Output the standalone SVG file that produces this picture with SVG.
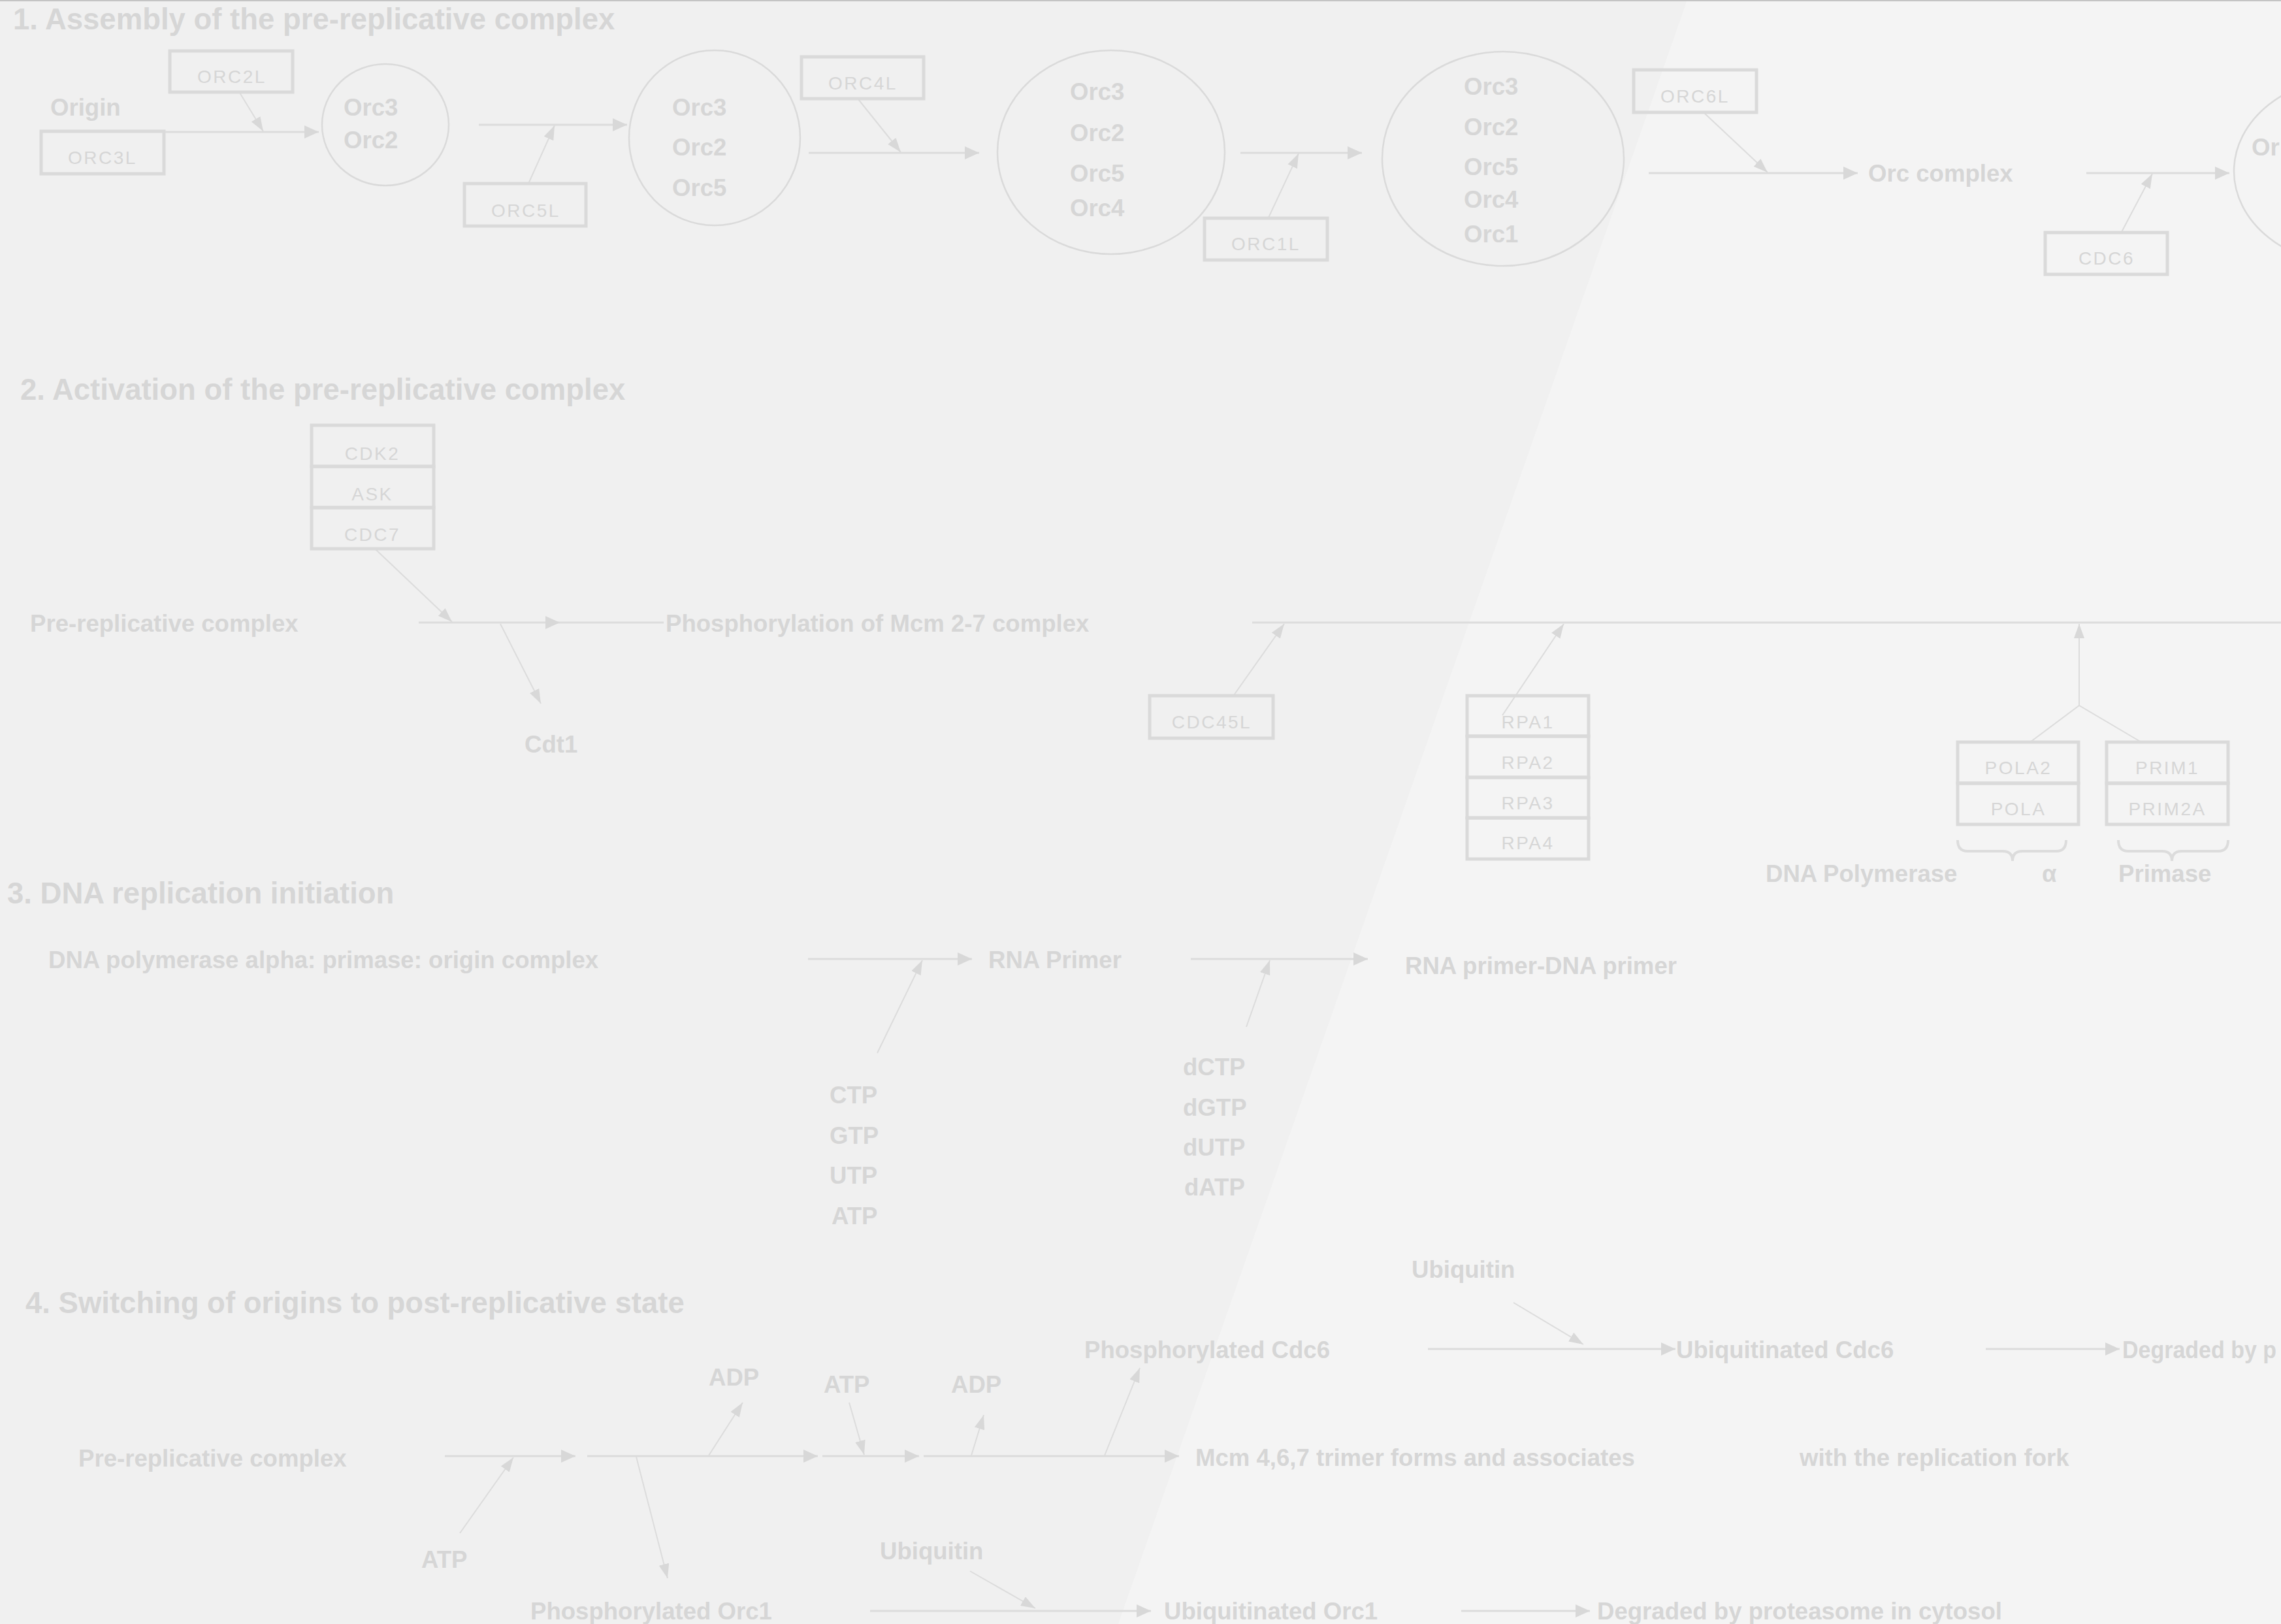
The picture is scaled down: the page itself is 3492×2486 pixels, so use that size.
<svg xmlns="http://www.w3.org/2000/svg" width="3492" height="2486" viewBox="0 0 3492 2486">
<defs>
<style>
.t{font-family:"Liberation Sans",Arial,sans-serif;font-weight:bold;font-size:36.6px;fill:#d6d6d6}
.h{font-family:"Liberation Sans",Arial,sans-serif;font-weight:bold;font-size:45.5px;fill:#d6d6d6}
.b{font-family:"Liberation Sans",Arial,sans-serif;font-size:28px;fill:#d6d6d6;letter-spacing:2.5px;text-anchor:middle}
.box{fill:none;stroke:#dadada;stroke-width:5}
.ell{fill:none;stroke:#dadada;stroke-width:2.5}
.ln{fill:none;stroke:#dcdcdc;stroke-width:3}
.sd{fill:none;stroke:#dcdcdc;stroke-width:2}
.br{fill:none;stroke:#dcdcdc;stroke-width:4}
</style>
<marker id="ah" markerUnits="userSpaceOnUse" viewBox="0 0 22 20" refX="22" refY="10" markerWidth="22" markerHeight="20" orient="auto">
<path d="M0,0 L22,10 L0,20 z" fill="#d8d8d8"/>
</marker>
<marker id="as" markerUnits="userSpaceOnUse" viewBox="0 0 22 16" refX="22" refY="8" markerWidth="22" markerHeight="16" orient="auto">
<path d="M0,0 L22,8 L0,16 z" fill="#d8d8d8"/>
</marker>
</defs>
<rect x="0" y="0" width="3492" height="2486" fill="#f0f0f0"/>
<polygon points="2583,0 3492,0 3492,2486 1712,2486" fill="#f4f4f4"/>
<rect x="0" y="0" width="3492" height="2" fill="#c4c4c4"/>

<g id="titles">
<text class="h" x="20" y="45">1. Assembly of the pre-replicative complex</text>
<text class="h" x="31" y="612">2. Activation of the pre-replicative complex</text>
<text class="h" x="11" y="1383">3. DNA replication initiation</text>
<text class="h" x="39" y="2010">4. Switching of origins to post-replicative state</text>
</g>

<g id="connectors">
<!-- section 1 -->
<line class="ln" x1="251" y1="202" x2="488" y2="202" marker-end="url(#ah)"/>
<line class="sd" x1="367" y1="142" x2="403" y2="201" marker-end="url(#as)"/>
<line class="ln" x1="733" y1="191" x2="960" y2="191" marker-end="url(#ah)"/>
<line class="sd" x1="809" y1="281" x2="849" y2="192" marker-end="url(#as)"/>
<line class="ln" x1="1238" y1="234" x2="1499" y2="234" marker-end="url(#ah)"/>
<line class="sd" x1="1314" y1="152" x2="1379" y2="233" marker-end="url(#as)"/>
<line class="ln" x1="1899" y1="234" x2="2085" y2="234" marker-end="url(#ah)"/>
<line class="sd" x1="1942" y1="333" x2="1988" y2="235" marker-end="url(#as)"/>
<line class="ln" x1="2524" y1="265" x2="2844" y2="265" marker-end="url(#ah)"/>
<line class="sd" x1="2609" y1="173" x2="2706" y2="264" marker-end="url(#as)"/>
<line class="ln" x1="3194" y1="265" x2="3413" y2="265" marker-end="url(#ah)"/>
<line class="sd" x1="3248" y1="355" x2="3295" y2="266" marker-end="url(#as)"/>
<!-- section 2 -->
<line class="ln" x1="641" y1="953" x2="857" y2="953" marker-end="url(#ah)"/>
<line class="ln" x1="857" y1="953" x2="1016" y2="953"/>
<line class="sd" x1="575" y1="841" x2="692" y2="952" marker-end="url(#as)"/>
<line class="sd" x1="766" y1="955" x2="828" y2="1077" marker-end="url(#as)"/>
<line class="ln" x1="1917" y1="953" x2="3492" y2="953"/>
<line class="sd" x1="1889" y1="1064" x2="1966" y2="955" marker-end="url(#as)"/>
<line class="sd" x1="2300" y1="1095" x2="2394" y2="955" marker-end="url(#as)"/>
<line class="sd" x1="3183" y1="1080" x2="3183" y2="955" marker-end="url(#as)"/>
<polyline class="sd" points="3108,1136 3183,1080 3278,1136"/>
<path class="br" d="M2997,1286 Q2997,1303 3012,1303 L3066,1303 Q3081,1303 3081,1318 Q3081,1303 3096,1303 L3148,1303 Q3163,1303 3163,1286"/>
<path class="br" d="M3243,1286 Q3243,1303 3258,1303 L3310,1303 Q3325,1303 3325,1318 Q3325,1303 3340,1303 L3396,1303 Q3411,1303 3411,1286"/>
<!-- section 3 -->
<line class="ln" x1="1237" y1="1468" x2="1488" y2="1468" marker-end="url(#ah)"/>
<line class="sd" x1="1343" y1="1612" x2="1412" y2="1470" marker-end="url(#as)"/>
<line class="ln" x1="1823" y1="1468" x2="2094" y2="1468" marker-end="url(#ah)"/>
<line class="sd" x1="1908" y1="1572" x2="1944" y2="1470" marker-end="url(#as)"/>
<!-- section 4 -->
<line class="ln" x1="681" y1="2229" x2="881" y2="2229" marker-end="url(#ah)"/>
<line class="sd" x1="704" y1="2347" x2="786" y2="2231" marker-end="url(#as)"/>
<line class="ln" x1="899" y1="2229" x2="1252" y2="2229" marker-end="url(#ah)"/>
<line class="sd" x1="974" y1="2230" x2="1022" y2="2416" marker-end="url(#as)"/>
<line class="sd" x1="1085" y1="2228" x2="1137" y2="2147" marker-end="url(#as)"/>
<line class="ln" x1="1259" y1="2229" x2="1407" y2="2229" marker-end="url(#ah)"/>
<line class="sd" x1="1300" y1="2147" x2="1323" y2="2227" marker-end="url(#as)"/>
<line class="ln" x1="1414" y1="2229" x2="1805" y2="2229" marker-end="url(#ah)"/>
<line class="sd" x1="1487" y1="2228" x2="1506" y2="2166" marker-end="url(#as)"/>
<line class="sd" x1="1691" y1="2228" x2="1745" y2="2094" marker-end="url(#as)"/>
<line class="ln" x1="2186" y1="2065" x2="2565" y2="2065" marker-end="url(#ah)"/>
<line class="sd" x1="2317" y1="1994" x2="2424" y2="2058" marker-end="url(#as)"/>
<line class="ln" x1="3040" y1="2065" x2="3245" y2="2065" marker-end="url(#ah)"/>
<line class="ln" x1="1332" y1="2466" x2="1762" y2="2466" marker-end="url(#ah)"/>
<line class="sd" x1="1485" y1="2405" x2="1585" y2="2462" marker-end="url(#as)"/>
<line class="ln" x1="2237" y1="2466" x2="2434" y2="2466" marker-end="url(#ah)"/>
</g>

<!-- Section 1 nodes -->
<g id="origin"><text class="t" x="77" y="177">Origin</text></g>
<g id="orc3l"><rect class="box" x="63" y="201" width="188" height="65"/><text class="b" x="157" y="251">ORC3L</text></g>
<g id="orc2l"><rect class="box" x="260" y="78" width="188" height="63"/><text class="b" x="355" y="127">ORC2L</text></g>
<g id="c32"><ellipse class="ell" cx="590" cy="191" rx="97" ry="93"/><text class="t" x="526" y="177">Orc3</text><text class="t" x="526" y="227">Orc2</text></g>
<g id="orc5l"><rect class="box" x="711" y="281" width="186" height="65"/><text class="b" x="805" y="332">ORC5L</text></g>
<g id="c325"><ellipse class="ell" cx="1094" cy="211" rx="131" ry="134"/><text class="t" x="1029" y="177">Orc3</text><text class="t" x="1029" y="238">Orc2</text><text class="t" x="1029" y="300">Orc5</text></g>
<g id="orc4l"><rect class="box" x="1227" y="87" width="187" height="64"/><text class="b" x="1321" y="137">ORC4L</text></g>
<g id="c3254"><ellipse class="ell" cx="1701" cy="233" rx="174" ry="156"/><text class="t" x="1638" y="153">Orc3</text><text class="t" x="1638" y="216">Orc2</text><text class="t" x="1638" y="278">Orc5</text><text class="t" x="1638" y="331">Orc4</text></g>
<g id="orc1l"><rect class="box" x="1844" y="334" width="188" height="64"/><text class="b" x="1938" y="383">ORC1L</text></g>
<g id="c32541"><ellipse class="ell" cx="2301" cy="243" rx="185" ry="164"/><text class="t" x="2241" y="145">Orc3</text><text class="t" x="2241" y="207">Orc2</text><text class="t" x="2241" y="268">Orc5</text><text class="t" x="2241" y="318">Orc4</text><text class="t" x="2241" y="371">Orc1</text></g>
<g id="orc6l"><rect class="box" x="2501" y="107" width="188" height="65"/><text class="b" x="2595" y="157">ORC6L</text></g>
<g id="orccomplex"><text class="t" x="2860" y="278">Orc complex</text></g>
<g id="cdc6"><rect class="box" x="3131" y="356" width="187" height="64"/><text class="b" x="3225" y="405">CDC6</text></g>
<g id="orccdc6"><ellipse class="ell" cx="3605" cy="262" rx="185" ry="145"/><text class="t" x="3447" y="238">Or</text></g>

<!-- Section 2 nodes -->
<g id="prerc2"><text class="t" x="46" y="967">Pre-replicative complex</text></g>
<g id="kinase"><rect class="box" x="477" y="651" width="187" height="63"/><rect class="box" x="477" y="714" width="187" height="63"/><rect class="box" x="477" y="777" width="187" height="63"/><text class="b" x="570" y="704">CDK2</text><text class="b" x="570" y="766">ASK</text><text class="b" x="570" y="828">CDC7</text></g>
<g id="phosmcm"><text class="t" x="1019" y="967">Phosphorylation of Mcm 2-7 complex</text></g>
<g id="cdt1"><text class="t" x="803" y="1152">Cdt1</text></g>
<g id="cdc45l"><rect class="box" x="1760" y="1065" width="189" height="65"/><text class="b" x="1855" y="1115">CDC45L</text></g>
<g id="rpa"><rect class="box" x="2246" y="1065" width="186" height="62"/><rect class="box" x="2246" y="1127" width="186" height="63"/><rect class="box" x="2246" y="1190" width="186" height="62"/><rect class="box" x="2246" y="1252" width="186" height="63"/><text class="b" x="2339" y="1115">RPA1</text><text class="b" x="2339" y="1177">RPA2</text><text class="b" x="2339" y="1239">RPA3</text><text class="b" x="2339" y="1300">RPA4</text></g>
<g id="pola"><rect class="box" x="2997" y="1136" width="185" height="63"/><rect class="box" x="2997" y="1199" width="185" height="63"/><text class="b" x="3090" y="1185">POLA2</text><text class="b" x="3090" y="1248">POLA</text></g>
<g id="prim"><rect class="box" x="3225" y="1136" width="186" height="63"/><rect class="box" x="3225" y="1199" width="186" height="63"/><text class="b" x="3318" y="1185">PRIM1</text><text class="b" x="3318" y="1248">PRIM2A</text></g>
<g id="labels2"><text class="t" x="2703" y="1350">DNA Polymerase</text><text class="t" x="3126" y="1350">α</text><text class="t" x="3243" y="1350">Primase</text></g>

<!-- Section 3 nodes -->
<g id="polprim"><text class="t" x="74" y="1482">DNA polymerase alpha: primase: origin complex</text></g>
<g id="rnaprimer"><text class="t" x="1513" y="1482">RNA Primer</text></g>
<g id="ntp"><text class="t" x="1270" y="1689">CTP</text><text class="t" x="1270" y="1751">GTP</text><text class="t" x="1270" y="1812">UTP</text><text class="t" x="1273" y="1874">ATP</text></g>
<g id="rnadna"><text class="t" x="2151" y="1491">RNA primer-DNA primer</text></g>
<g id="dntp"><text class="t" x="1811" y="1646">dCTP</text><text class="t" x="1811" y="1708">dGTP</text><text class="t" x="1811" y="1769">dUTP</text><text class="t" x="1813" y="1830">dATP</text></g>

<!-- Section 4 nodes -->
<g id="prerc4"><text class="t" x="120" y="2245">Pre-replicative complex</text></g>
<g id="atp1"><text class="t" x="645" y="2400">ATP</text></g>
<g id="porc1"><text class="t" x="812" y="2479">Phosphorylated Orc1</text></g>
<g id="adp1"><text class="t" x="1085" y="2121">ADP</text></g>
<g id="atp2"><text class="t" x="1261" y="2132">ATP</text></g>
<g id="adp2"><text class="t" x="1456" y="2132">ADP</text></g>
<g id="pcdc6"><text class="t" x="1660" y="2079">Phosphorylated Cdc6</text></g>
<g id="mcm467"><text class="t" x="1830" y="2244">Mcm 4,6,7 trimer forms and associates</text><text class="t" x="2755" y="2244">with the replication fork</text></g>
<g id="ubq1"><text class="t" x="2161" y="1956">Ubiquitin</text></g>
<g id="ucdc6"><text class="t" x="2566" y="2079">Ubiquitinated Cdc6</text></g>
<g id="deg1"><text class="t" x="3249" y="2079" textLength="236" lengthAdjust="spacingAndGlyphs">Degraded by p</text></g>
<g id="ubq2"><text class="t" x="1347" y="2387">Ubiquitin</text></g>
<g id="uorc1"><text class="t" x="1782" y="2479">Ubiquitinated Orc1</text></g>
<g id="deg2"><text class="t" x="2445" y="2479">Degraded by proteasome in cytosol</text></g>
</svg>
